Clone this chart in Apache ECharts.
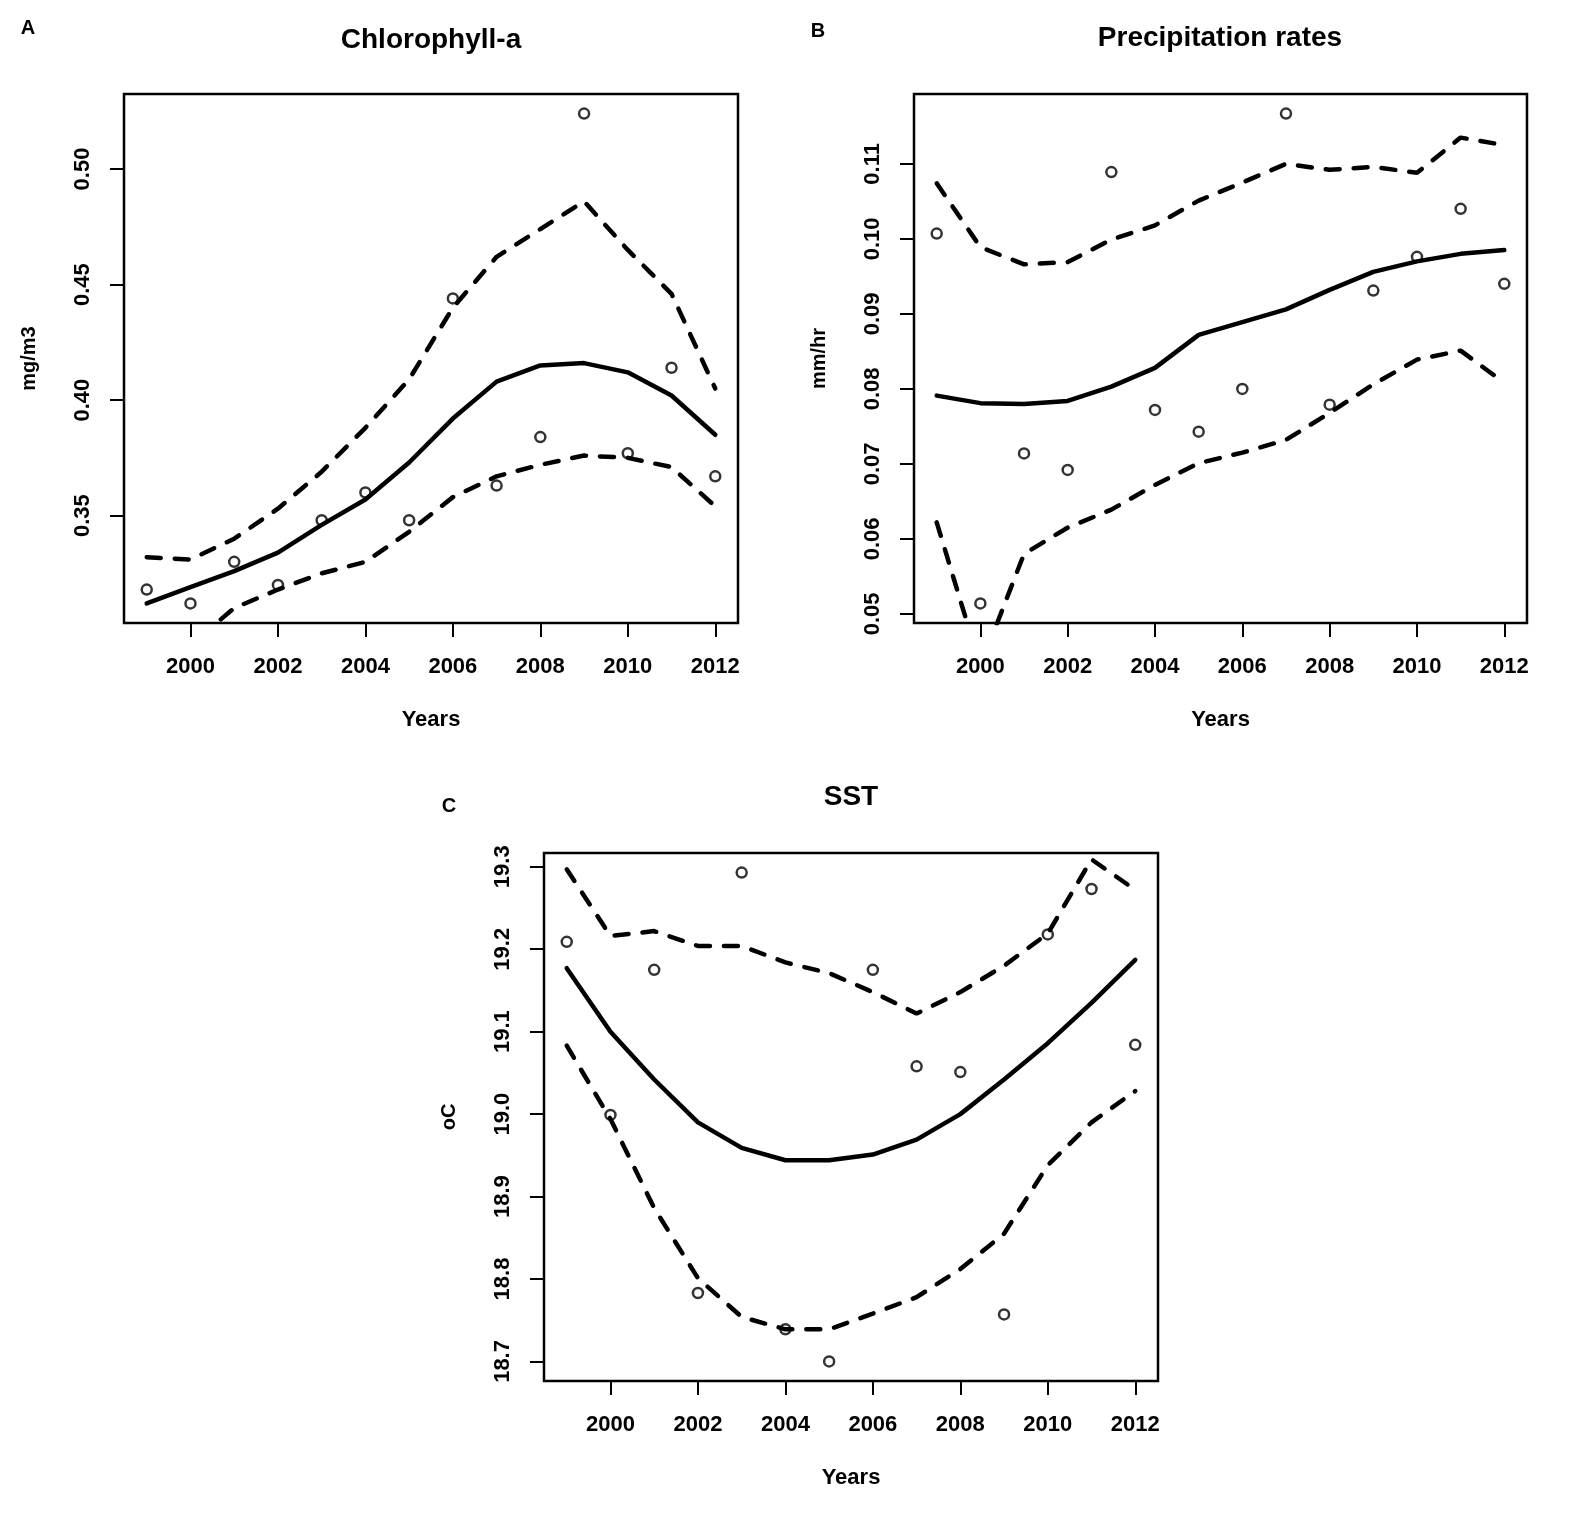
<!DOCTYPE html>
<html>
<head>
<meta charset="utf-8">
<script src="https://cdn.jsdelivr.net/npm/echarts@6/dist/echarts.min.js"></script>
<style>
  html, body { margin: 0; padding: 0; background: #fff; }
  #chart { width: 1575px; height: 1513px; }
</style>
</head>
<body>
<div id="chart"></div>
<script>
// ---------- data ----------
const years = [1999, 2000, 2001, 2002, 2003, 2004, 2005, 2006, 2007, 2008, 2009, 2010, 2011, 2012];
const xTicks = [2000, 2002, 2004, 2006, 2008, 2010, 2012];

// Panel A: Chlorophyll-a (mg/m3)
const chlPoints = [0.318, 0.312, 0.330, 0.320, 0.348, 0.360, 0.348, 0.444, 0.363, 0.384, 0.524, 0.377, 0.414, 0.367];
const chlFit    = [0.312, 0.319, 0.326, 0.334, 0.346, 0.357, 0.373, 0.392, 0.408, 0.415, 0.416, 0.412, 0.402, 0.385];
const chlUpper  = [0.332, 0.331, 0.340, 0.353, 0.369, 0.388, 0.409, 0.440, 0.462, 0.474, 0.486, 0.465, 0.446, 0.405];
const chlLower  = [0.291, 0.294, 0.310, 0.318, 0.325, 0.330, 0.343, 0.358, 0.367, 0.372, 0.376, 0.375, 0.371, 0.354];
const chlTicks  = [0.35, 0.40, 0.45, 0.50];

// Panel B: Precipitation rates (mm/hr)
const precPoints = [0.1007, 0.0514, 0.0714, 0.0692, 0.1089, 0.0772, 0.0743, 0.0800, 0.1167, 0.0779, 0.0931, 0.0976, 0.1040, 0.0940];
const precFit    = [0.0791, 0.0781, 0.0780, 0.0784, 0.0803, 0.0828, 0.0872, 0.0889, 0.0906, 0.0932, 0.0956, 0.0970, 0.0980, 0.0985];
const precUpper  = [0.1074, 0.0989, 0.0966, 0.0969, 0.0999, 0.1018, 0.1051, 0.1075, 0.1100, 0.1092, 0.1096, 0.1088, 0.1135, 0.1125];
const precLower  = [0.0622, 0.0430, 0.0580, 0.0615, 0.0639, 0.0672, 0.0701, 0.0715, 0.0732, 0.0768, 0.0806, 0.0839, 0.0851, 0.0808];
const precTicks  = [0.05, 0.06, 0.07, 0.08, 0.09, 0.10, 0.11];

// Panel C: SST (oC)
const sstPoints = [19.209, 18.999, 19.175, 18.783, 19.293, 18.739, 18.700, 19.175, 19.058, 19.051, 18.757, 19.218, 19.273, 19.084];
const sstFit    = [19.177, 19.100, 19.042, 18.990, 18.959, 18.944, 18.944, 18.951, 18.969, 19.000, 19.042, 19.086, 19.135, 19.187];
const sstUpper  = [19.297, 19.216, 19.222, 19.204, 19.204, 19.184, 19.171, 19.148, 19.122, 19.148, 19.180, 19.219, 19.309, 19.272];
const sstLower  = [19.083, 18.994, 18.886, 18.801, 18.754, 18.739, 18.739, 18.758, 18.778, 18.812, 18.855, 18.938, 18.990, 19.028];
const sstTicks  = [18.7, 18.8, 18.9, 19.0, 19.1, 19.2, 19.3];

// ---------- helpers ----------
const FONT = '"Liberation Sans", Arial, Helvetica, sans-serif';
const pair = arr => years.map((y, i) => [y, arr[i]]);

// R-style axis range: data range extended by 4% on each side
function rRange(arrs) {
  const all = [].concat(...arrs);
  const lo = Math.min(...all), hi = Math.max(...all);
  const d = (hi - lo) * 0.04;
  return [lo - d, hi + d];
}
const xr = rRange([years]);

function xAxisFor(gi) {
  return {
    gridIndex: gi, type: 'value', min: xr[0], max: xr[1],
    axisLine: { show: false, onZero: false },
    splitLine: { show: false },
    axisTick: { show: true, customValues: xTicks, length: 14, lineStyle: { color: '#000', width: 2 } },
    axisLabel: { customValues: xTicks, margin: 33, color: '#000', fontSize: 22, fontWeight: 'bold', fontFamily: FONT,
                 formatter: v => String(Math.round(v)) },
    name: 'Years', nameLocation: 'middle', nameGap: 86,
    nameTextStyle: { color: '#000', fontSize: 22, fontWeight: 'bold', fontFamily: FONT }
  };
}
function yAxisFor(gi, range, ticks, digits, name) {
  return {
    gridIndex: gi, type: 'value', min: range[0], max: range[1],
    axisLine: { show: false, onZero: false },
    splitLine: { show: false },
    axisTick: { show: true, customValues: ticks, length: 14, lineStyle: { color: '#000', width: 2 } },
    axisLabel: { customValues: ticks, rotate: 90, margin: 30, color: '#000', fontSize: 22, fontWeight: 'bold',
                 fontFamily: FONT, formatter: v => Number(v).toFixed(digits) },
    name: name, nameLocation: 'middle', nameGap: 85,
    nameTextStyle: { color: '#000', fontSize: 20, fontWeight: 'bold', fontFamily: FONT }
  };
}
function seriesFor(gi, pts, fit, up, lo) {
  const lw = 4.5;
  return [
    { type: 'line', xAxisIndex: gi, yAxisIndex: gi, data: pair(fit), symbol: 'none', smooth: false, clip: true,
      lineStyle: { color: '#000', width: lw, cap: 'round', join: 'round' }, z: 3 },
    { type: 'line', xAxisIndex: gi, yAxisIndex: gi, data: pair(up), symbol: 'none', smooth: false, clip: true,
      lineStyle: { color: '#000', width: lw, type: [14, 14], cap: 'round' }, z: 3 },
    { type: 'line', xAxisIndex: gi, yAxisIndex: gi, data: pair(lo), symbol: 'none', smooth: false, clip: true,
      lineStyle: { color: '#000', width: lw, type: [14, 14], cap: 'round' }, z: 3 },
    { type: 'scatter', xAxisIndex: gi, yAxisIndex: gi, data: pair(pts), symbol: 'circle', symbolSize: 10, clip: true,
      itemStyle: { color: 'rgba(255,255,255,0)', borderColor: '#000', borderWidth: 2.5 }, z: 4 }
  ];
}

const rA = rRange([chlPoints]);
const rB = rRange([precPoints]);
const rC = rRange([sstPoints]);

const gridStyle = { show: true, borderColor: '#000', borderWidth: 2.5, backgroundColor: 'transparent' };

function label(text, x, y, size, align) {
  return { type: 'text', x: x, y: y, z: 10,
    style: { text: text, fill: '#000', font: 'bold ' + size + 'px ' + FONT, textAlign: align || 'center', textVerticalAlign: 'middle' } };
}

const option = {
  backgroundColor: '#fff',
  animation: false,
  grid: [
    Object.assign({ left: 124, top: 94, width: 614, height: 529 }, gridStyle),
    Object.assign({ left: 914, top: 94, width: 613, height: 529 }, gridStyle),
    Object.assign({ left: 544, top: 853, width: 614, height: 528 }, gridStyle)
  ],
  xAxis: [xAxisFor(0), xAxisFor(1), xAxisFor(2)],
  yAxis: [
    yAxisFor(0, rA, chlTicks, 2, 'mg/m3'),
    yAxisFor(1, rB, precTicks, 2, 'mm/hr'),
    yAxisFor(2, rC, sstTicks, 1, 'oC')
  ],
  graphic: [
    label('Chlorophyll-a', 431, 40, 28),
    label('Precipitation rates', 1220, 38, 28),
    label('SST', 851, 797, 28),
    label('A', 28, 28, 20),
    label('B', 818, 31, 20),
    label('C', 449, 806, 20)
  ],
  series: [].concat(
    seriesFor(0, chlPoints, chlFit, chlUpper, chlLower),
    seriesFor(1, precPoints, precFit, precUpper, precLower),
    seriesFor(2, sstPoints, sstFit, sstUpper, sstLower)
  )
};

const chart = echarts.init(document.getElementById('chart'), null, { renderer: 'canvas' });
chart.setOption(option);
</script>
</body>
</html>
